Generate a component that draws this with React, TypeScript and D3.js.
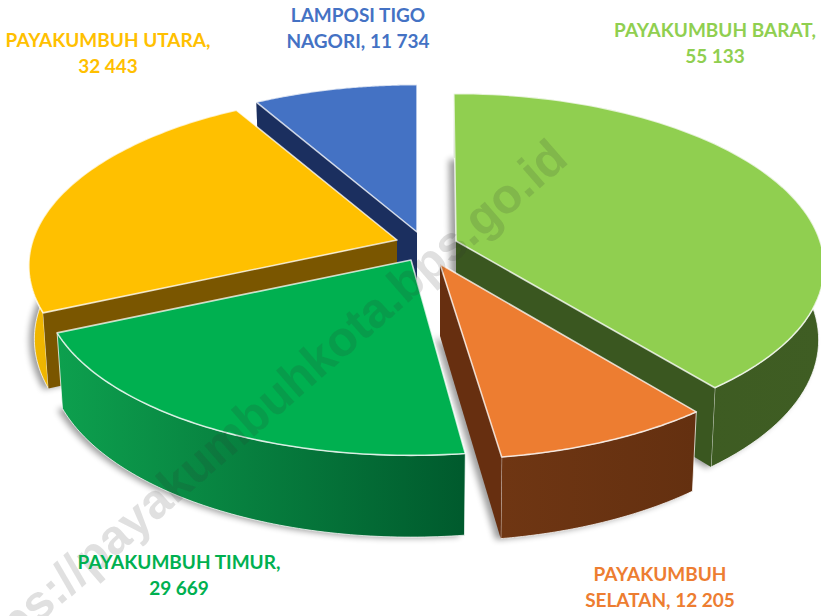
import React from "react";
import * as d3 from "d3";

const names = ["PAYAKUMBUH BARAT", "PAYAKUMBUH SELATAN", "PAYAKUMBUH TIMUR", "PAYAKUMBUH UTARA", "LAMPOSI TIGO NAGORI"];
const populations = [55133, 12205, 29669, 32443, 11734];
const topColors = ["#90cf50", "#ed7d31", "#00b050", "#ffc000", "#4472c4"];
const radialWallColors = ["#3a5720", "#672f10", "#00582c", "#7a5600", "#1b2f5f"];
const outerWallLeft = ["#3b5921", "#6f3613", "#0da04e", "#f2b800", "#1b2f5f"];
const outerWallRight = ["#3f5d23", "#643010", "#005a2d", "#c49300", "#1b2f5f"];
const apexX = [456, 440, 411, 397, 417];
const apexY = [241, 264, 260, 240, 232];
const startNudgeDeg = [-0.4, 1, 1, -1.5, 0];
const endNudgeDeg = [0.5, 0, -1.5, 0, 0];
const labelLines = [
  ["PAYAKUMBUH BARAT,", "55 133"],
  ["PAYAKUMBUH", "SELATAN, 12 205"],
  ["PAYAKUMBUH TIMUR,", "29 669"],
  ["PAYAKUMBUH UTARA,", "32 443"],
  ["LAMPOSI TIGO", "NAGORI, 11 734"],
];
const labelX = [715, 660, 179, 108, 358];
const labelY = [37, 581, 569, 47, 22];
const paintOrder = [4, 3, 0, 1, 2];

const W = 821, H = 616;
const RX = 364, RY = 168, KX = 0.15, KY = 0.14, DEPTH = 72, BOTTOM_SHRINK = 0.985, STEPS = 80;

const arcs = d3.pie<number>().sort(null).value((d) => d)(populations);
const rad = (deg: number) => (deg * Math.PI) / 180;

type P = [number, number];
function project(i: number, angle: number, radius: number, low: boolean): P {
  const u = Math.sin(angle) * radius;
  const v = -Math.cos(angle) * radius;
  const px = 1 / (1 - KX * v);
  const py = 1 / (1 - KY * v);
  const s = low ? BOTTOM_SHRINK : 1;
  const drop = low ? DEPTH * px : 0;
  return [apexX[i] + RX * u * px * s, apexY[i] + RY * v * py * s + drop];
}
const arcPts = (i: number, low: boolean): P[] => {
  const a0 = arcs[i].startAngle + rad(startNudgeDeg[i]);
  const a1 = arcs[i].endAngle + rad(endNudgeDeg[i]);
  return d3.range(STEPS + 1).map((k) => project(i, a0 + ((a1 - a0) * k) / STEPS, 1, low));
};
const line = d3.line<P>();
const apex = (i: number, low: boolean): P => project(i, 0, 0, low);
const close = (pts: P[]) => (line(pts) as string) + "Z";

export default function App() {
  return (
    <svg width={W} height={H} style={{ position: "fixed", left: 0, top: 0, background: "#fff" }}
      fontFamily="Lato, Carlito, sans-serif">
      <defs>
        <filter id="soft" x="-10%" y="-10%" width="120%" height="120%">
          <feGaussianBlur stdDeviation="3" />
        </filter>
        {populations.map((_, i) => {
          const xs = arcPts(i, false).map((p) => p[0]);
          return (
            <linearGradient key={i} id={`wall${i}`} gradientUnits="userSpaceOnUse"
              x1={d3.min(xs)} x2={d3.max(xs)} y1={0} y2={0}>
              <stop offset="0" stopColor={outerWallLeft[i]} />
              <stop offset="1" stopColor={outerWallRight[i]} />
            </linearGradient>
          );
        })}
      </defs>
      {paintOrder.map((i) => {
        const top = arcPts(i, false);
        const low = arcPts(i, true);
        const aT = apex(i, false), aL = apex(i, true);
        const edge = "rgba(255,255,255,0.75)";
        const showStart = arcs[i].startAngle > Math.PI;
        const showEnd = arcs[i].endAngle < Math.PI;
        return (
          <g key={i}>
            <path d={close([aL, ...low])} transform="translate(-5,1)" fill="#000" opacity={0.38} filter="url(#soft)" />
            <path d={close([...top, ...low.slice().reverse()])} fill={`url(#wall${i})`} stroke={edge} strokeWidth={1} />
            {showStart && <path d={close([aT, top[0], low[0], aL])} fill={radialWallColors[i]} />}
            {showEnd && <path d={close([aT, top[STEPS], low[STEPS], aL])} fill={radialWallColors[i]} />}
            <path d={close([aT, ...top])} fill={topColors[i]} stroke={edge} strokeWidth={1.6} strokeLinejoin="round" />
          </g>
        );
      })}
      <text transform="translate(570,162) rotate(-41)" textAnchor="end" fontFamily="Liberation Sans, Arial, sans-serif"
        fontWeight={700} fontSize={49} fill="rgba(50,50,50,0.15)">
        https://payakumbuhkota.bps.go.id
      </text>
      {names.map((n, i) => (
        <text key={n} textAnchor="middle" fontWeight={700} fontSize={19} fill={topColors[i]}>
          {labelLines[i].map((t, j) => (
            <tspan key={j} x={labelX[i]} y={labelY[i] + j * 26}>{t}</tspan>
          ))}
        </text>
      ))}
    </svg>
  );
}
